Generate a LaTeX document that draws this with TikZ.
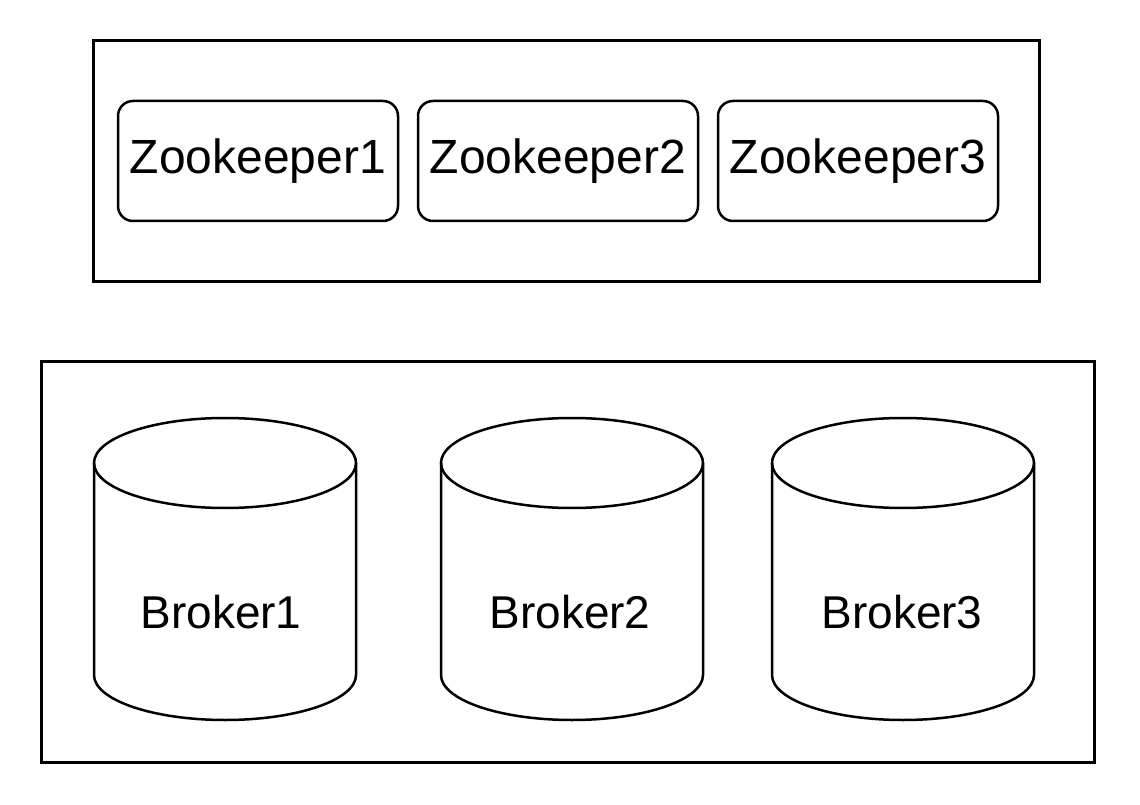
\documentclass[tikz,border=0pt]{standalone}
\usepackage{fontspec}
\setmainfont{Liberation Sans}
\usetikzlibrary{positioning}

\begin{document}
\begin{tikzpicture}[
  x=1pt, y=1pt,
  frame/.style={draw, line width=3pt, inner sep=0pt},
  zkbox/.style={draw, line width=2.5pt, rounded corners=15pt, inner sep=0pt, minimum width=280pt, minimum height=120pt, font=\fontsize{48}{57}\selectfont},
  can/.style={draw, line width=2.5pt},
  label text/.style={font=\fontsize{46}{55}\selectfont}
]
\useasboundingbox (0,0) rectangle (1140,804);

% zookeeper ensemble
\node[frame, minimum width=946pt, minimum height=241pt] (zkgroup) at (566,642.5) {};
\node[zkbox] (zk1) at (258,643) {Zookeeper1};
\node[zkbox, right=17.5pt of zk1] (zk2) {Zookeeper2};
\node[zkbox, right=17.5pt of zk2] (zk3) {Zookeeper3};

% broker cluster
\node[frame, minimum width=1053pt, minimum height=400pt] (cluster) at (567.5,242) {};
\foreach \cx in {225,572,903} {
  \draw[can] (\cx-131,341) -- (\cx-131,129)
    arc[start angle=180, end angle=360, x radius=131, y radius=45] -- (\cx+131,341);
  \draw[can] (\cx,341) ellipse[x radius=131, y radius=45];
}
\node[label text] (broker1) at (221,192) {Broker1};
\node[label text] (broker2) at (570,192) {Broker2};
\node[label text] (broker3) at (902,192) {Broker3};

\end{tikzpicture}
\end{document}
